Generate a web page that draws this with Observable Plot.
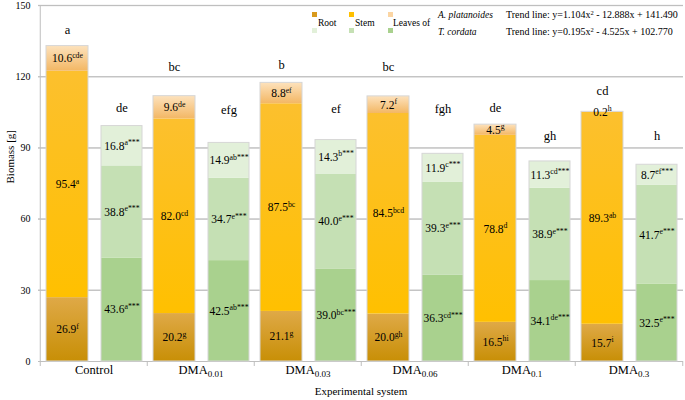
<!DOCTYPE html>
<html>
<head>
<meta charset="utf-8">
<script src="https://cdn.jsdelivr.net/npm/d3@7"></script>
<script src="https://cdn.jsdelivr.net/npm/@observablehq/plot@0.6"></script>
<style>
  body { margin: 0; background: #fff; }
  #wrap { position: relative; width: 685px; height: 400px; font-family: "Liberation Serif", Tinos, "Times New Roman", Times, "DejaVu Serif", serif; }
  #chart svg, #chart svg text { font-family: "Liberation Serif", Tinos, "Times New Roman", Times, "DejaVu Serif", serif !important; }
  #legend { position: absolute; left: 0; top: 0; width: 685px; height: 40px; pointer-events: none; color: #000; }
  #legend .sw { position: absolute; width: 5px; height: 5px; }
  #legend .t { position: absolute; font-size: 9.5px; line-height: 10px; white-space: nowrap; }
  #legend .tr { position: absolute; font-size: 10px; line-height: 11px; white-space: nowrap; }
  #legend sup { font-size: 6.5px; vertical-align: 3px; line-height: 0; }
</style>
</head>
<body>
<div id="wrap">
  <div id="chart"></div>
  <div id="legend">
    <div class="sw" style="left:312px;top:12px;background:#d99a1c"></div>
    <div class="sw" style="left:312px;top:28px;background:#e2f0d9"></div>
    <div class="t" style="left:318px;top:18px">Root</div>
    <div class="sw" style="left:349px;top:12px;background:#ffc000"></div>
    <div class="sw" style="left:349px;top:28px;background:#c5e0b4"></div>
    <div class="t" style="left:355px;top:18px">Stem</div>
    <div class="sw" style="left:388px;top:12px;background:#fbd5a3"></div>
    <div class="sw" style="left:388px;top:28px;background:#a9d18e"></div>
    <div class="t" style="left:393px;top:18px">Leaves of</div>
    <div class="t" style="left:438px;top:10px;font-style:italic">A. platanoides</div>
    <div class="t" style="left:438px;top:27px;font-style:italic">T. cordata</div>
    <div class="tr" style="left:506px;top:9px">Trend line: y=1.104x<sup>2</sup> - 12.888x + 141.490</div>
    <div class="tr" style="left:506px;top:26px">Trend line: y=0.195x<sup>2</sup> - 4.525x + 102.770</div>
  </div>
</div>
<script>
// ---- data ----
const groups = ["Control", "DMA_0.01", "DMA_0.03", "DMA_0.06", "DMA_0.1", "DMA_0.3"];

const acerRoot = [26.9, 20.2, 21.1, 20.0, 16.5, 15.7];
const acerRootSig = ["f", "g", "g", "gh", "hi", "i"];
const acerStem = [95.4, 82.0, 87.5, 84.5, 78.8, 89.3];
const acerStemSig = ["a", "cd", "bc", "bcd", "d", "ab"];
const acerLeaves = [10.6, 9.6, 8.8, 7.2, 4.5, 0.2];
const acerLeavesSig = ["cde", "de", "ef", "f", "g", "h"];

const tiliaRoot = [43.6, 42.5, 39.0, 36.3, 34.1, 32.5];
const tiliaRootSig = ["a***", "ab***", "bc***", "cd***", "de***", "e***"];
const tiliaStem = [38.8, 34.7, 40.0, 39.3, 38.9, 41.7];
const tiliaStemSig = ["e***", "e***", "e***", "e***", "e***", "e***"];
const tiliaLeaves = [16.8, 14.9, 14.3, 11.9, 11.3, 8.7];
const tiliaLeavesSig = ["a***", "ab***", "b***", "c***", "cd***", "ef***"];

const acerLetters = ["a", "bc", "b", "bc", "de", "cd"];
const acerLetterY = [139.5, 124, 125, 124, 107, 114];
const tiliaLetters = ["de", "efg", "ef", "fgh", "gh", "h"];
const tiliaLetterY = [107, 106, 106.6, 106.6, 95, 95];

const yTicks = [0, 30, 60, 90, 120, 150];

// ---- build tables ----
function build(parts) {
  const out = [];
  groups.forEach((g, i) => {
    parts.forEach(([part, vals, sigs]) => out.push({group: g, part, value: vals[i], sig: sigs[i]}));
  });
  return out;
}
const rowsA = build([["root", acerRoot, acerRootSig], ["stem", acerStem, acerStemSig], ["leaves", acerLeaves, acerLeavesSig]]);
const rowsT = build([["root", tiliaRoot, tiliaRootSig], ["stem", tiliaStem, tiliaStemSig], ["leaves", tiliaLeaves, tiliaLeavesSig]]);

const fillA = {root: "url(#gRoot)", stem: "url(#gStem)", leaves: "url(#gLeaves)"};
const fillT = {root: "#a9d18e", stem: "#c5e0b4", leaves: "#e2f0d9"};

const W = 685, H = 400, ML = 38, MR = 2, MT = 5, MB = 39;
const half = (W - ML - MR) / groups.length / 2;
const dxA = -26.5, dxT = 28;
const font = "Liberation Serif, Tinos, Times New Roman, Times, DejaVu Serif, serif";

const chart = Plot.plot({
  width: W, height: H,
  marginLeft: ML, marginRight: MR, marginTop: MT, marginBottom: MB,
  style: {fontFamily: font, fontSize: "10px", color: "#000", background: "#fff"},
  x: {domain: groups, padding: 0, axis: null},
  y: {domain: [0, 150], axis: null},
  color: {type: "identity"},
  marks: [
    Plot.ruleY(yTicks.slice(1), {stroke: "#d9d9d9", strokeWidth: 1.5}),
    // y axis
    Plot.ruleX([groups[0]], {dx: -half, y1: 0, y2: 150, stroke: "#bfbfbf", strokeWidth: 1}),
    Plot.ruleY([0], {stroke: "#bfbfbf", strokeWidth: 1}),
    Plot.tickY(yTicks, {y: d => d, frameAnchor: "left", stroke: "#bfbfbf"}),
    Plot.text(yTicks, {y: d => d, frameAnchor: "left", dx: -8, textAnchor: "end", text: d => String(d), fontSize: 10}),
    // x group ticks
    Plot.ruleX(groups, {x: d => d, dx: -half, y1: 0, y2: 0, insetBottom: -5, stroke: "#bfbfbf"}),
    Plot.ruleX([groups[groups.length - 1]], {x: d => d, dx: half, y1: 0, y2: 0, insetBottom: -5, stroke: "#bfbfbf"}),
    // bars A. platanoides
    Plot.barY(rowsA, {x: "group", y: "value", fill: d => fillA[d.part], insetLeft: 6, insetRight: 59}),
    Plot.barY(rowsA, Plot.groupX({y: "sum"}, {x: "group", y: "value", fill: "none", stroke: "#d6d6d6", strokeWidth: 1, insetLeft: 6, insetRight: 59})),
    // bars T. cordata
    Plot.barY(rowsT, {x: "group", y: "value", fill: d => fillT[d.part], insetLeft: 61, insetRight: 5}),
    Plot.barY(rowsT, Plot.groupX({y: "sum"}, {x: "group", y: "value", fill: "none", stroke: "#d6d6d6", strokeWidth: 1, insetLeft: 61, insetRight: 5})),
    // value labels
    Plot.text(rowsA, Plot.stackY({x: "group", y: "value", text: d => d.value.toFixed(1) + "^" + d.sig, dx: dxA, fontSize: 11.5, fill: "#000"})),
    Plot.text(rowsT, Plot.stackY({x: "group", y: "value", text: d => d.value.toFixed(1) + "^" + d.sig, dx: dxT, fontSize: 11.5, fill: "#000"})),
    // significance letters
    Plot.text(groups, {x: d => d, y: (d, i) => acerLetterY[i], text: (d, i) => acerLetters[i], dx: dxA, fontSize: 12.5}),
    Plot.text(groups, {x: d => d, y: (d, i) => tiliaLetterY[i], text: (d, i) => tiliaLetters[i], dx: dxT, fontSize: 12.5}),
    // x tick labels
    Plot.text(groups, {x: d => d, frameAnchor: "bottom", dy: 12, text: d => d, fontSize: 12.5}),
    // axis titles
    Plot.text(["Experimental system"], {frameAnchor: "bottom", dy: 33, text: d => d, fontSize: 11}),
    Plot.text(["Biomass [g]"], {frameAnchor: "left", dx: -28, rotate: -90, text: d => d, fontSize: 11})
  ]
});

// gradients for A. platanoides segments
const svg = d3.select(chart);
const defs = svg.insert("defs", ":first-child");
function grad(id, stops) {
  const g = defs.append("linearGradient").attr("id", id).attr("x1", 0).attr("y1", 0).attr("x2", 0).attr("y2", 1);
  stops.forEach(([o, c]) => g.append("stop").attr("offset", o).attr("stop-color", c));
}
grad("gRoot", [[0, "#dfa947"], [1, "#c88f06"]]);
grad("gStem", [[0, "#fcc02e"], [1, "#ffc000"]]);
grad("gLeaves", [[0, "#fde2bd"], [1, "#f3b764"]]);

// superscripts / subscripts
svg.selectAll("text").each(function () {
  const t = d3.select(this);
  const s = this.textContent;
  if (this.querySelector("tspan")) return;
  if (s.includes("^")) {
    const [a, b] = s.split("^");
    t.text(a);
    t.append("tspan").attr("font-size", "68%").attr("dy", "-0.55em").text(b);
  } else if (s.includes("_")) {
    const [a, b] = s.split("_");
    t.text(a);
    t.append("tspan").attr("font-size", "72%").attr("dy", "0.35em").text(b);
  }
});
svg.selectAll("text").style("font-family", font);

document.getElementById("chart").appendChild(chart);
</script>
</body>
</html>
